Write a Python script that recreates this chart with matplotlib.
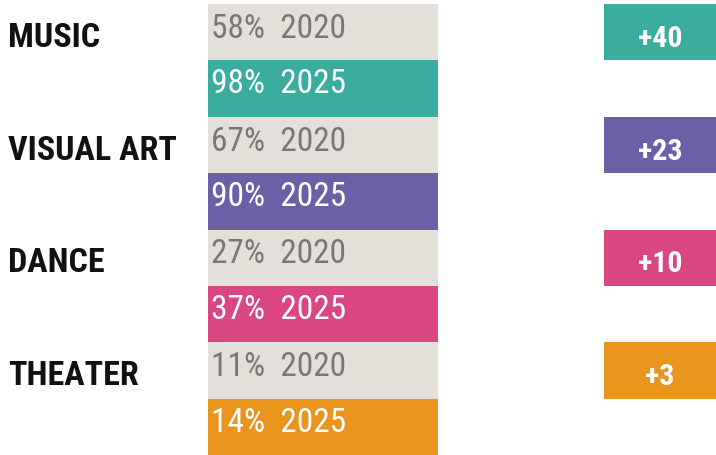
import matplotlib
matplotlib.use("Agg")
import matplotlib.pyplot as plt

# data
categories = ["MUSIC", "VISUAL ART", "DANCE", "THEATER"]
pct_2020 = [58, 67, 27, 11]
pct_2025 = [98, 90, 37, 14]
change = [40, 23, 10, 3]
years = ["2020", "2025"]

colors_2025 = ["#3aad9f", "#6b5fa7", "#d94682", "#e8941d"]
gray_bar = "#e3e0da"
gray_text = "#787878"

# condensed face stands in for Arial Narrow
plt.rcParams["font.family"] = ["Roboto Condensed", "Liberation Sans", "DejaVu Sans"]

W, H = 716, 456
fig = plt.figure(figsize=(W / 100, H / 100), dpi=100)
ax = fig.add_axes([0, 0, 1, 1])

row_h = (H - 5) / 8.0          # px per bar row
top = 5                         # px above first row
ax.set_xlim(0, W)
ax.set_ylim(7.5, -0.5 - top / row_h)
ax.axis("off")


def px(p):
    # pixel offset -> row units
    return p / row_h


bar_left, bar_w = 208, 230
box_left, box_w = 604, 112

for i, cat in enumerate(categories):
    r0 = 2 * i        # 2020 row
    r1 = 2 * i + 1    # 2025 row
    ax.barh(r0, bar_w, left=bar_left, height=1.0, color=gray_bar, linewidth=0)
    ax.barh(r1, bar_w, left=bar_left, height=1.0, color=colors_2025[i], linewidth=0)

    ax.text(bar_left + 3, r0 - 0.5 + px(33), f"{pct_2020[i]}%  {years[0]}",
            color=gray_text, fontsize=24, va="baseline", ha="left")
    ax.text(bar_left + 3, r1 - 0.5 + px(32), f"{pct_2025[i]}%  {years[1]}",
            color="white", fontsize=24, va="baseline", ha="left")

    # category label
    ax.text(8, r0 - 0.5 + px(42), cat, color="#111111", fontsize=24.5,
            fontweight="bold", va="baseline", ha="left")

    # change box
    ax.barh(r0, box_w, left=box_left, height=1.0, color=colors_2025[i], linewidth=0)
    ax.text(box_left + box_w / 2, r0 - 0.5 + px(42), f"+{change[i]}",
            color="white", fontsize=21.5, fontweight="bold", va="baseline", ha="center")

fig.savefig("out.png", dpi=100, facecolor="white")
